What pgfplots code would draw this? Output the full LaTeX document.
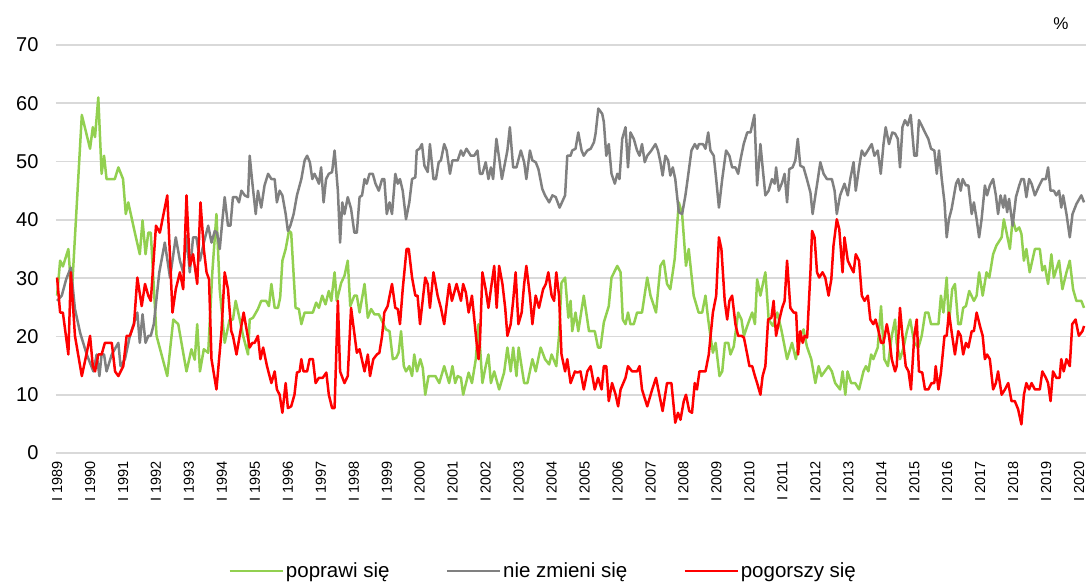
\documentclass[border=0pt]{standalone}
\usepackage{fontspec}
\setmainfont{Liberation Sans}
\usepackage{pgfplots}
\pgfplotsset{compat=1.18}
\definecolor{cgreen}{HTML}{92D050}
\definecolor{cgray}{HTML}{808080}
\definecolor{cred}{HTML}{FF0000}
\definecolor{cgrid}{HTML}{D9D9D9}
\begin{document}
\begin{tikzpicture}
\path[use as bounding box] (-56pt,-130pt) rectangle (1030pt,453pt);
\begin{axis}[at={(0pt,0pt)}, anchor=south west, scale only axis, width=1030pt, height=408pt,
 xmin=-0.4, xmax=374.5, ymin=0, ymax=70,
 ytick={0,10,...,70}, xtick={0,12,...,372},
 xticklabels={I 1989,I 1990,I 1991,I 1992,I 1993,I 1994,I 1995,I 1996,I 1997,I 1998,I 1999,I 2000,I 2001,I 2002,I 2003,I 2004,I 2005,I 2006,I 2007,I 2008,I 2009,I 2010,I 2011,I 2012,I 2013,I 2014,I 2015,I 2016,I 2017,I 2018,I 2019,I 2020},
 axis line style={draw=none}, major tick length=0pt, tick style={draw=none},
 ymajorgrids, grid style={cgrid, line width=1.8pt},
 /pgf/number format/assume math mode=true,
 yticklabel style={font=\fontsize{20}{24}\selectfont, anchor=east},
 yticklabel shift=14pt,
 xticklabel style={font=\fontsize{14.5}{17}\selectfont, rotate=90, anchor=east},
 xticklabel shift=5pt,
 legend columns=3,
 legend style={draw=none, fill=none, at={(0.473,-0.289)}, anchor=center, font=\fontsize{20.5}{24}\selectfont, /tikz/every even column/.append style={column sep=54pt}},
 legend image code/.code={\draw[#1] (0pt,0pt) -- (53pt,0pt);},
 every axis plot/.append style={line width=2.5pt, line join=round, mark=none},
]
\addplot[cgreen] coordinates {
(0,27) (1.1,33) (2.1,32) (4.1,35) (5.3,27) (9,58) (12,52.2) (13,55.9) (13.8,54.2) (15,61) (16.2,47.9) (17.1,51) (18,47) (21,47) (22.3,49) (24,47) (25,41) (25.9,43) (28.3,37.8) (30.1,34.1) (31.1,39.9) (32.2,34.1) (33.2,37.8) (34.1,37.8) (36.2,20.1) (40.1,13.2) (42.3,22.9) (44.1,22.1)
(45.9,17.2) (47.1,14) (48.9,17.8) (50.1,16) (51,22.1) (52,14) (53.4,17.8) (55,17.2) (56.5,31) (58,41) (59.2,28) (61,18.9) (62.8,22.9) (64,22.9) (65,26.1) (66.5,22.9) (67.7,20.1) (69.5,16.9) (70.1,22.9) (71.3,23.2) (73.1,24.7) (74.3,26.1) (76.1,26.1) (77.1,25.2) (78,29) (79.2,24.9) (80.4,24.9) (81.2,26.7) (82,33) (83.2,35) (84.4,38.1) (85.2,37.8) (86.8,24.9) (88,24.7) (88.9,22.1) (90.1,24.1) (91.3,24.1)
(93.1,24.1) (94.3,25.8) (95.3,24.9) (96.5,27) (97.7,25.5) (98.9,27.8) (99.8,26.1) (101,31) (101.8,26.1) (103.4,29.2) (104.6,30.4) (105.8,33) (106.7,25.2) (108.2,27) (109.1,27) (110.1,24.1) (111.9,29) (113.1,23.2) (114.3,24.7) (115.5,23.8) (117.1,23.8) (118.5,22.4) (119.7,21.2) (121,20.9) (122.2,16.1) (123.4,16.3) (124.3,17.2) (125.2,20.9) (126.2,14.9) (127,14) (128.2,14.9) (129.2,13.2) (130,16.9) (131,14) (132.2,16.1) (133.1,14.6) (134,10) (135.2,13.2) (137.7,13.2) (139.1,12)
(140.9,14.9) (142.7,12) (143.9,14.9) (144.9,12) (145.8,13.2) (147,12.9) (147.8,10) (149.8,13.8) (151,12) (152.4,16.1) (153.4,22.1) (154.8,12) (156,14.9) (157,16.9) (157.9,12) (159.1,14) (160.9,10.9) (162.7,13.8) (163.9,18.1) (165.1,14) (166,18.1) (167.2,13.2) (168,18.1) (170,12) (171.2,12) (173,16.1) (174.2,14) (176,18.1) (177.6,16.1) (179.1,15.2) (180,16.9) (181.7,14.9) (182.7,20.1) (183.6,29.2) (184.9,30.1) (186.1,23.2) (186.9,26.1)
(187.5,20.9) (188.7,24.1) (189.7,20.9) (191.7,27) (193.6,20.9) (195.7,20.9) (196.9,18.1) (197.8,18.1) (199,22.4) (200.8,25.2) (201.8,30.1) (203.9,32.1) (205.1,31) (205.9,22.9) (206.9,22.1) (207.8,24.1) (208.7,22.1) (209.9,22.1) (211.1,24.1) (212.9,24.1) (214.8,30.1) (216,27) (218,24.1) (219.6,32.1) (220.8,33) (222,29) (223.2,28.1) (224.8,33.3) (226.3,43) (227.5,41) (228.9,32.1) (229.9,35) (231.7,27) (233.5,24.1)
(234.8,24.1) (236,27) (237,22.9) (237.8,20.1) (238.7,17.2) (239.7,18.9) (241.1,13.2) (242.1,14) (243.1,18.9) (244.3,18.9) (245.1,16.9) (246.3,18.3) (247.9,24.1) (249.1,22.9) (250,20.1) (251.2,21.8) (253,24.1) (254,22.1) (254.8,29.8) (256,27) (257.8,31) (259,22.9) (260.5,21.8) (262.1,24.1) (263.6,21.2) (265.7,16.1) (267.5,18.9) (268.9,16.1) (270.5,20.1) (271.7,21.2) (272.9,18.3) (274.5,16.1) (276,12) (277.2,14.9) (278.2,13.2) (279.4,14) (280.8,14.9)
(282,14) (283.2,12) (285,10.9) (285.9,14) (286.9,10) (287.7,14) (289,12) (290.5,12) (291.9,10.9) (293.5,14) (294.4,14.9) (295.3,14) (296.3,16.9) (297.1,16.1) (298.7,18.1) (299.9,25.2) (301.1,16.1) (302.4,14.9) (303.8,20.1) (305,22.9) (305.6,18.9) (306.8,16.1) (308.1,18.1) (309.3,20.9) (310.5,22.9) (312,18.9) (313.5,18.1) (314.7,20.1) (316,24.1) (317.1,24.1) (318.1,22.1) (320.8,22.1) (321.7,27) (322.6,24.1) (323.8,30.1) (324.6,22.1) (325.8,28.1) (326.8,29)
(328,22.1) (328.9,22.1) (329.8,24.9) (330.8,25.2) (332,27.8) (333.7,26.1) (334.7,27) (335.6,31) (336.9,27) (338.3,31) (339.3,30.1) (340.7,34.1) (341.9,35.6) (343.8,37) (344.6,40.1) (345.6,37.8) (346.8,35) (347.8,40.1) (349,38.1) (350.2,38.7) (351,37.6) (351.9,33) (352.8,35) (354,31) (355.9,35) (357.7,35) (358.6,31.3) (359.5,32.1) (360.7,29) (361.9,34.1) (362.8,30.1) (364.7,33) (365.9,28.1) (367.4,31) (368.6,33) (369.8,28.1) (371,26.1) (372.8,26.1) (373.8,24.9)
};
\addlegendentry{poprawi się}
\addplot[cgray] coordinates {
(0,26.1) (1.7,27) (3.3,29.8) (5,31.8) (6.5,24.7) (8.4,20.6) (10.8,16.9) (13.2,14) (14.4,16.9) (15.4,13.2) (16.2,16.9) (17.1,16.9) (18,14) (19.9,16.9) (22.3,18.9) (23.1,14.9) (24.7,16.1) (26.5,20.1) (29.2,24.1) (30.1,18.9) (31.1,23.8) (32.2,18.9) (33.2,20.1) (34.1,20.1) (35.2,22.1) (37.2,31) (39.2,36.1) (41.1,30.1) (43.2,37)
(44.7,33) (45.9,31) (47.1,37.3) (48.3,31) (49.5,37) (50.7,37) (52,33) (53.4,36.1) (55,39) (56.2,36.1) (57.4,38.1) (58.2,37.8) (59.2,35) (60.2,40.1) (61,43.9) (62.2,39) (63.1,39) (64,43.9) (65.3,43.9) (66.2,43) (67.1,45) (68.3,44.2) (69.5,43.9) (70.1,51) (71.1,46.2) (72.3,41) (73.1,45) (74.3,42.1) (75.5,45.9) (76.8,47.9) (78,47) (79.2,47) (80,43) (81,45) (82,44.2) (83.2,41) (84,38.1) (84.9,39) (86.1,41) (87.3,44.2) (88.9,47) (90.1,50.2) (91,51) (92,49.9) (92.9,47)
(93.7,47.9) (94.6,47) (95.3,46.2) (96.1,49) (97,43) (97.9,47) (98.9,47.9) (100.1,48.2) (101,51.9) (102.2,45) (103,36.1) (103.8,43) (104.6,41) (105.8,43.9) (107,41.9) (108.2,37.8) (109.1,37.8) (110.1,43.9) (111,44.2) (111.9,47) (112.7,46.2) (113.7,47.9) (114.9,47.9) (115.9,46.2) (117.1,45) (118.3,47) (119.1,47) (120,41) (121,43) (121.9,41) (123.1,47.9) (124,46.2) (124.8,47) (125.8,45) (127,40.1) (128.2,43) (129.2,47) (130.4,47.3) (130.9,51.9) (131.9,52.2) (132.8,53) (133.7,49.3) (134.9,48.2) (135.7,53) (137,47) (137.9,47) (138.9,49.9) (139.7,50.2)
(140.9,53) (141.8,51.9) (143,47.9) (143.9,50.2) (145.8,50.2) (147,51.9) (147.8,51) (149,52.2) (150.6,51) (151.8,51) (153,51.9) (153.9,47.9) (154.8,47.9) (156,49.9) (157,47) (157.9,49) (158.7,47) (159.9,53.9) (161.1,49.9) (161.9,47) (163.9,51.9) (164.8,55.9) (166,49) (167.2,49) (168.8,51.9) (170,49.9) (170.8,47) (172.1,51.9) (173,50.2) (174.2,49.9) (175.2,48.7) (176.6,45.3) (177.6,44.2) (179.1,43) (180.3,44.2) (181.5,43.9) (182.9,42.1) (184.9,44.2) (185.7,51) (186.9,51)
(187.5,51.9) (188.7,52.2) (189.7,55) (190.9,51.9) (191.7,51) (193,51.9) (194.2,52.2) (195.4,53.3) (196,54.8) (197,59.1) (198.4,58.2) (199,56.8) (199.9,51) (200.8,53) (201.8,47.9) (203,46.2) (203.9,47.9) (204.7,47) (205.7,53.9) (206.9,55.9) (207.8,49) (208.7,55) (209.9,53.9) (211.1,51.9) (212,51) (212.9,53) (213.9,49.9) (214.8,51) (216.3,51.9) (217.8,53) (218.7,51.9) (219.6,49.9) (220.4,47.6) (221.4,51) (222.4,50.2) (223.2,47.6) (224.1,49) (225,47) (226.3,41.3) (227.5,41) (228.7,44.2) (229.6,47.3) (230.9,51.9) (232.1,53) (233,52.2)
(233.6,53) (235.1,53) (236,52.2) (237,55) (237.8,51.9) (239,51) (239.9,47) (240.9,42.1) (242.1,47) (243.5,51.9) (244.7,51) (245.7,49) (246.9,49) (247.9,47.9) (248.7,50.2) (249.9,53) (251.2,55) (252.4,55) (253.8,58) (254.8,45.9) (256,53) (256.8,49) (257.8,44.2) (259,45) (260.2,47) (261.2,46.2) (261.7,49) (262.7,45) (263.9,46.4) (264.8,47.9) (265.7,43) (266.5,48.7) (267.7,49) (268.7,50.2) (269.6,53.9) (270.5,49.3) (271.7,49) (272.9,47) (274.2,44.7) (275,41) (276,44.2) (277,47.3) (277.8,49.9) (279,47.9) (280.2,47)
(282,47) (283,45) (283.8,41) (285,44.2) (286.6,46.2) (287.8,44.2) (288.7,47) (289.9,49.9) (290.7,45) (291.9,49) (292.9,51.9) (293.9,51) (295.1,51.9) (296.5,53) (297.5,51) (298.7,51.9) (299.8,47.9) (300.8,53) (301.6,55.9) (302.8,53) (304,55) (305,54.8) (306,53.9) (306.8,49) (307.7,55.9) (308.6,57.1) (309.6,56.2) (310.7,58) (312,51) (312.9,51) (313.7,57.1) (314.7,56.2) (315.9,55) (317.1,53.9) (318.1,52.2) (319.3,51.9) (320.2,47.9) (321,51.9) (322,47) (323,43) (323.8,37) (324.6,40.1) (325.6,41.9)
(327.2,46.2) (328,47) (328.9,45) (329.6,47) (330.8,45.9) (331.7,45.9) (332.9,41) (333.7,43) (334.7,40.1) (335.6,37) (336.5,40.1) (337.7,45.9) (338.5,44.2) (339.5,45.9) (340.7,47) (341.7,44.2) (342.5,41) (343.4,44.2) (344.4,42.1) (345,44.2) (345.8,41.3) (346.5,43.6) (347.8,39) (349,43.9) (350.2,45.9) (351,47) (351.9,47) (352.8,43.9) (353.8,47) (354.7,46.2) (355.9,44.2) (357.5,45.9) (358.7,47) (359.9,47) (360.7,49) (361.6,45) (362.8,45) (363.7,44.2) (364.7,45) (365.5,42.1) (366.2,44.2) (367.4,41) (368.6,37) (369.6,41) (371,42.7) (372.8,44.2) (373.8,43)
};
\addlegendentry{nie zmieni się}
\addplot[cred] coordinates {
(0,30.1) (1.1,24.1) (2.1,24.1) (4.1,16.9) (5,31) (6.5,20.1) (9,13.2) (10.8,17.2) (12,20.1) (13,14.9) (13.8,14) (15,16.9) (16.2,16.9) (17.4,18.9) (19.9,18.9) (21.1,14) (22.3,13.2) (24.1,14.9) (25.3,20.1) (26.5,20.1) (28,22.1) (29.2,30.1) (30.8,25.2) (32,29) (33.2,27) (34.1,26.1) (36,39) (37.4,37.8) (40.1,44.2) (42,24.1) (43.2,28.1)
(44.7,31) (45.9,28.1) (47.1,44.2) (48.3,32.1) (49.5,34.1) (51,29) (52.2,43) (53.4,35) (54.4,31) (55.3,29.8) (56.2,16.1) (58,10.9) (59.8,20.6) (61,31) (62.2,28.1) (63.4,20.9) (64,20.1) (65.3,16.9) (67.9,24.1) (70.1,18.1) (71.1,18.9) (71.9,18.9) (73.1,20.1) (74,16.1) (75,18.1) (76.4,14.9) (78,12) (79.2,14) (80,10.9) (81,10) (82,6.9) (83.2,12) (84,7.7) (85.2,8) (86.4,10) (87.3,13.8) (88.3,14) (88.9,16.1) (89.7,14) (91,14) (91.9,16.1)
(93.1,16.1) (94.1,12) (95.3,12.9) (96.7,12.9) (98,13.8) (98.9,10) (100.1,7.7) (101,7.7) (102.2,26.1) (103,14) (104.6,12) (105.8,13.2) (107,24.9) (109.1,17.2) (110.1,17.8) (111.9,14) (113.1,16.9) (113.9,13.2) (115.1,16.1) (116.4,16.9) (117.3,17.2) (118.3,20.1) (119.1,24.1) (120.3,25.2) (121.9,29) (123.1,24.9) (124,24.7) (124.8,22.1) (125.8,28.1) (127.2,35) (128,35) (129.2,30.1) (130.4,27) (131.2,27) (132.1,22.1) (134,30.1) (134.9,29) (135.7,24.9) (137,31) (138.5,27) (139.7,24.9)
(140.9,22.1) (142.7,29) (143.7,26.1) (145.4,29) (147,26.1) (147.8,29) (148.8,27.5) (149.8,24.1) (151,27) (151.8,23.2) (152.7,18.9) (153.4,16.1) (153.9,18.9) (154.8,31) (156,28.1) (157,24.9) (157.9,28.1) (159.1,32.1) (160,24.9) (160.9,32.1) (162.1,29) (163.1,24.9) (163.9,20.1) (165.1,22.1) (166,26.1) (166.9,31) (167.9,22.1) (169.1,24.1) (170,29) (170.8,32.1) (172.1,27) (173,22.1) (174.2,27) (175.4,24.9) (176.9,28.1) (177.9,29) (178.8,31) (180,27) (180.9,26.1) (181.7,31) (182.7,27) (183.6,16.9) (184.9,14) (185.7,16.1) (186.9,12)
(188.5,14) (189.3,13.8) (190.5,14) (191.7,10.9) (193,14) (194.2,14.9) (195.7,10.9) (196.9,12.9) (198.2,10.9) (199,14.9) (199.9,14.9) (200.8,8.9) (202,12) (203.3,10) (204.2,8) (205.1,10.9) (206.9,12.9) (207.8,14.9) (209.3,14) (211.1,14) (212,14.9) (212.9,10.9) (214.8,8) (216.6,10.9) (218,12.9) (219.2,10) (220.4,7.2) (222,12) (223.6,12) (225,5.2) (226,6.9) (226.9,5.7) (228.1,8.9) (228.9,10) (230.1,7.2) (231.1,6.9) (232.1,12) (232.9,10.9) (233.8,14)
(234.6,14) (236,14) (237.2,16.9) (238.7,24.1) (239.9,27) (240.9,37) (241.8,35) (243,26.1) (243.9,22.9) (244.7,26.1) (245.7,27) (246.9,22.1) (247.9,20.1) (249.1,20.1) (250,19.8) (251.2,16.9) (252,14.9) (253,14.9) (254,13.2) (254.8,12) (256,10) (256.8,13.2) (257.8,14.9) (258.8,22.9) (260,23.2) (260.8,26.1) (261.7,20.1) (262.9,22.9) (263.9,24.9) (264.8,26.1) (265.7,33) (266.9,24.9) (268.1,24.1) (269,24.1) (269.7,16.9) (270.5,20.9) (271.4,18.9) (272.1,20.1) (273,19.8) (274.2,31) (274.8,38.1) (275.7,37) (276.6,31) (277.4,30.1) (278.6,31) (279.6,30.1) (280.8,27)
(281.8,29.8) (282.6,35.6) (283.8,40.1) (284.7,38.4) (285.9,31) (286.6,37) (287.8,33) (288.7,32.1) (289.9,31) (290.7,34.1) (291.9,33) (292.9,27) (293.9,26.1) (295.1,27) (296,22.9) (297.1,22.1) (297.9,22.9) (299,20.9) (299.9,18.9) (300.8,18.9) (302,22.1) (302.8,20.1) (303.8,16.1) (305,14) (305.6,14.9) (306.8,24.9) (307.7,20.1) (308.9,14.9) (309.9,14) (310.8,10.9) (312,20.1) (312.9,22.9) (313.7,14) (314.9,13.8) (315.9,10.9) (317.1,10.9) (318.3,12) (319.3,12) (319.8,14.9) (320.8,10.9) (321.7,13.8) (323,20.1) (323.8,20.1) (324.6,24.1) (325.8,20.1)
(326.8,16.9) (328,20.9) (328.9,20.1) (329.8,16.9) (330.8,18.9) (331.7,18.1) (332.9,20.9) (333.7,20.9) (334.7,24.1) (335.9,21.8) (336.9,20.1) (337.7,16.1) (338.5,16.9) (339.5,16.1) (340.7,10.9) (341.7,12) (342.5,14) (343.8,10) (345,10.9) (346.2,12) (347.4,8.9) (348.6,8.9) (349.8,7.5) (351,4.9) (351.9,10) (352.8,12) (353.8,10.9) (354.7,12) (355.9,10.9) (357.7,10.9) (358.6,14) (359.9,12.9) (360.7,12) (361.6,8.9) (362.5,14) (363.7,12.9) (364.9,12.9) (365.5,16.1) (366.4,14) (367.4,16.1) (368.6,14.9) (369.5,22.1) (370.7,22.9) (371.9,20.1) (373.2,20.9) (373.8,21.8)
};
\addlegendentry{pogorszy się}
\end{axis}
\node[font=\fontsize{17}{20}\selectfont] at (1005pt,429pt) {\%};
\end{tikzpicture}
\end{document}
